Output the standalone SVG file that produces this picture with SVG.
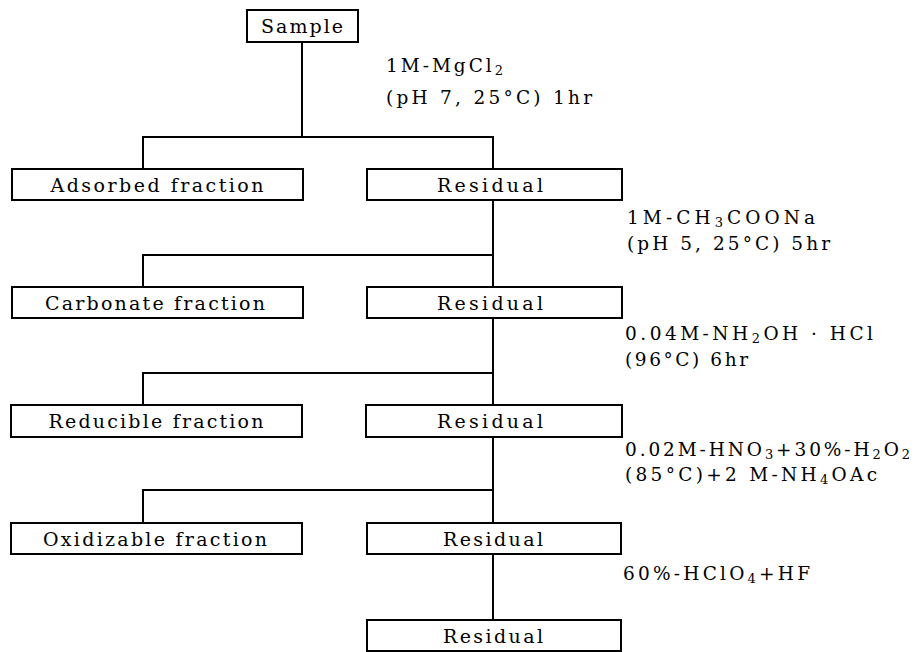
<svg xmlns="http://www.w3.org/2000/svg" width="917" height="652" viewBox="0 0 917 652">
<style>
rect.box{fill:#fff;stroke:#000;stroke-width:2}
.c line, .c path{stroke:#000;stroke-width:2;fill:none}
text{font-family:"DejaVu Serif","Liberation Serif",serif;fill:#000}
.bl{font-size:19px;text-anchor:middle}
.an{font-size:18.5px}
.sub{font-size:13px}
</style>
<rect width="917" height="652" fill="#fff"/>
<g class="c" id="connectors">
<line x1="302" y1="42" x2="302" y2="137"/>
<path d="M143 169V137H493V169"/>
<path d="M493 200V287M143 287V255H493"/>
<path d="M493 318V405M143 405V373H493"/>
<path d="M493 437V523M143 523V490H493"/>
<line x1="493" y1="554" x2="493" y2="620"/>
</g>
<g id="sample"><rect class="box" x="247" y="10" width="111" height="32"/><text class="bl" x="302" y="33" textLength="82" lengthAdjust="spacing">Sample</text></g>
<g id="adsorbed"><rect class="box" x="12" y="169" width="291" height="31"/><text class="bl" x="157" y="192" textLength="213" lengthAdjust="spacing">Adsorbed fraction</text></g>
<g id="residual1"><rect class="box" x="367" y="169" width="255" height="31"/><text class="bl" x="490" y="192" textLength="106" lengthAdjust="spacing">Residual</text></g>
<g id="carbonate"><rect class="box" x="12" y="287" width="291" height="31"/><text class="bl" x="155" y="310" textLength="220" lengthAdjust="spacing">Carbonate fraction</text></g>
<g id="residual2"><rect class="box" x="367" y="287" width="255" height="31"/><text class="bl" x="490" y="310" textLength="106" lengthAdjust="spacing">Residual</text></g>
<g id="reducible"><rect class="box" x="11" y="405" width="291" height="32"/><text class="bl" x="156" y="428" textLength="215" lengthAdjust="spacing">Reducible fraction</text></g>
<g id="residual3"><rect class="box" x="366" y="405" width="256" height="32"/><text class="bl" x="490" y="428" textLength="106" lengthAdjust="spacing">Residual</text></g>
<g id="oxidizable"><rect class="box" x="11" y="523" width="291" height="31"/><text class="bl" x="155" y="546" textLength="224" lengthAdjust="spacing">Oxidizable fraction</text></g>
<g id="residual4"><rect class="box" x="367" y="523" width="254" height="31"/><text class="bl" x="493" y="546" textLength="100" lengthAdjust="spacing">Residual</text></g>
<g id="residual5"><rect class="box" x="367" y="620" width="254" height="31"/><text class="bl" x="493" y="643" textLength="100" lengthAdjust="spacing">Residual</text></g>
<g id="labels">
<text class="an" x="386" y="72" textLength="117" lengthAdjust="spacing">1M-MgCl<tspan class="sub" dy="3">2</tspan></text>
<text class="an" x="386" y="104" textLength="206" lengthAdjust="spacing">(pH 7, 25°C) 1hr</text>
<text class="an" x="627" y="224" textLength="188" lengthAdjust="spacing">1M-CH<tspan class="sub" dy="3">3</tspan><tspan dy="-3">COONa</tspan></text>
<text class="an" x="627" y="250" textLength="203" lengthAdjust="spacing">(pH 5, 25°C) 5hr</text>
<text class="an" x="625" y="340" textLength="248" lengthAdjust="spacing">0.04M-NH<tspan class="sub" dy="3">2</tspan><tspan dy="-3">OH · HCl</tspan></text>
<text class="an" x="625" y="366" textLength="123" lengthAdjust="spacing">(96°C) 6hr</text>
<text class="an" x="625" y="456" textLength="285" lengthAdjust="spacing">0.02M-HNO<tspan class="sub" dy="3">3</tspan><tspan dy="-3">+30%-H</tspan><tspan class="sub" dy="3">2</tspan><tspan dy="-3">O</tspan><tspan class="sub" dy="3">2</tspan></text>
<text class="an" x="625" y="481" textLength="252" lengthAdjust="spacing">(85°C)+2 M-NH<tspan class="sub" dy="3">4</tspan><tspan dy="-3">OAc</tspan></text>
<text class="an" x="623" y="580" textLength="187" lengthAdjust="spacing">60%-HClO<tspan class="sub" dy="3">4</tspan><tspan dy="-3">+HF</tspan></text>
</g>
</svg>
